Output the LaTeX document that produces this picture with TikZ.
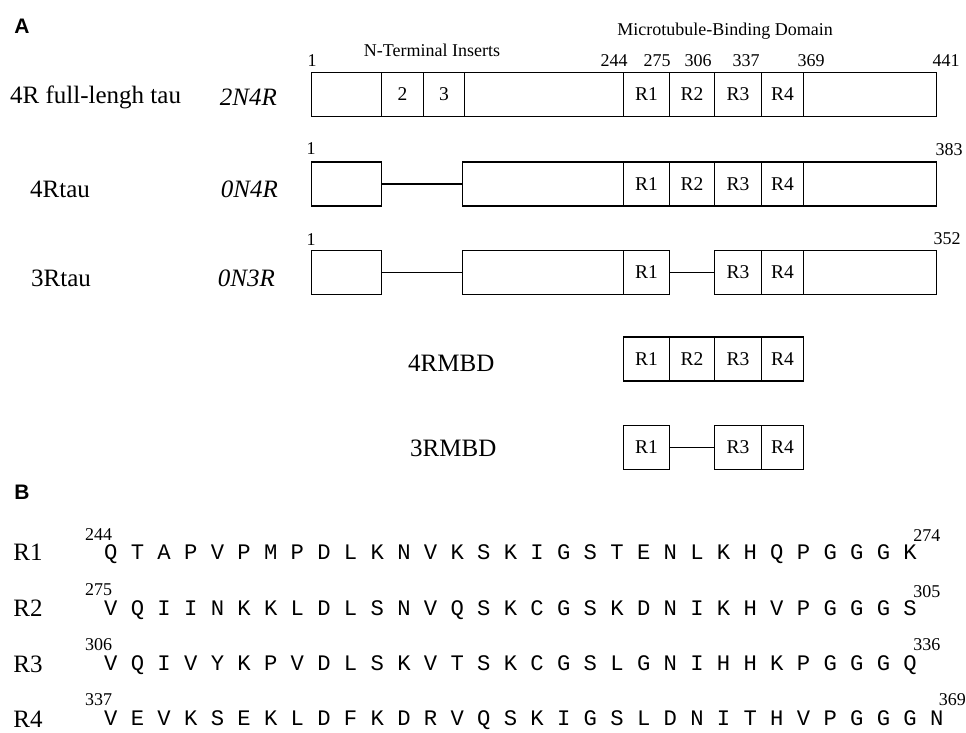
\documentclass[tikz,border=0pt]{standalone}
\usepackage{fontspec}
\setmainfont{Liberation Serif}
\setsansfont{Liberation Sans}
\setmonofont{Liberation Mono}
\usepackage{tikz}
\usetikzlibrary{positioning}

\begin{document}
\begin{tikzpicture}[x=1pt, y=-1pt,
  panel/.style={font=\sffamily\bfseries\fontsize{21}{24}\selectfont, inner sep=0pt},
  lbl/.style={font=\fontsize{25}{28}\selectfont, inner sep=0pt},
  num/.style={font=\fontsize{18}{20}\selectfont, inner sep=0pt},
  seg/.style={draw, line width=1.2pt, minimum height=44pt, inner sep=0pt, anchor=west,
    font=\fontsize{19.5}{21}\selectfont},
  lnk/.style={line width=1.2pt},
  res/.style={font=\ttfamily\fontsize{22.2}{24}\selectfont, inner sep=0pt, anchor=west}]
\useasboundingbox (0,0) rectangle (966,732);

% panel A
\node[panel] (pA) at (22,26) {A};
\node[num] (hN) at (432,50) {N-Terminal Inserts};
\node[num] (hM) at (725,31) {Microtubule-Binding Domain};

% 2N4R full length
\node[lbl, anchor=west] (t1) at (10,97) {4R full-lengh tau};
\node[lbl, anchor=east] (i1) at (277,97) {\itshape 2N4R};
\node[seg, minimum width=70pt] (a1) at (311,94.5) {};
\node[seg, minimum width=42pt] (a2) at (381,94.5) {2};
\node[seg, minimum width=41pt] (a3) at (423,94.5) {3};
\node[seg, minimum width=159pt] (a4) at (464,94.5) {};
\node[seg, minimum width=46pt] (a5) at (623,94.5) {R1};
\node[seg, minimum width=45pt] (a6) at (669,94.5) {R2};
\node[seg, minimum width=47pt] (a7) at (714,94.5) {R3};
\node[seg, minimum width=42pt] (a8) at (761,94.5) {R4};
\node[seg, minimum width=133pt] (a9) at (803,94.5) {};
\node[num] (k1) at (312,61) {1};
\node[num] (k2) at (614,61) {244};
\node[num] (k3) at (657,61) {275};
\node[num] (k4) at (698,61) {306};
\node[num] (k5) at (746,61) {337};
\node[num] (k6) at (811,61) {369};
\node[num] (k7) at (946,61) {441};

% 0N4R
\node[lbl, anchor=west] (t2) at (30,189) {4Rtau};
\node[lbl, anchor=east] (i2) at (278,189) {\itshape 0N4R};
\node[seg, minimum width=70pt] (b1) at (311,184) {};
\node[seg, minimum width=161pt] (b2) at (462,184) {};
\node[seg, minimum width=46pt] (b3) at (623,184) {R1};
\node[seg, minimum width=45pt] (b4) at (669,184) {R2};
\node[seg, minimum width=47pt] (b5) at (714,184) {R3};
\node[seg, minimum width=42pt] (b6) at (761,184) {R4};
\node[seg, minimum width=133pt] (b7) at (803,184) {};
\draw[lnk] (b1.east) -- (b2.west);
\node[num] (m1) at (311,149) {1};
\node[num] (m2) at (949,150) {383};

% 0N3R
\node[lbl, anchor=west] (t3) at (31,278) {3Rtau};
\node[lbl, anchor=east] (i3) at (275,278) {\itshape 0N3R};
\node[seg, minimum width=70pt] (c1) at (311,272.5) {};
\node[seg, minimum width=161pt] (c2) at (462,272.5) {};
\node[seg, minimum width=46pt] (c3) at (623,272.5) {R1};
\node[seg, minimum width=47pt] (c4) at (714,272.5) {R3};
\node[seg, minimum width=42pt] (c5) at (761,272.5) {R4};
\node[seg, minimum width=133pt] (c6) at (803,272.5) {};
\draw[lnk] (c1.east) -- (c2.west);
\draw[lnk] (c3.east) -- (c4.west);
\node[num] (n1) at (311,240) {1};
\node[num] (n2) at (947,239) {352};

% MBD constructs
\node[lbl, anchor=west] (t4) at (408,363) {4RMBD};
\node[seg, minimum width=46pt] (d1) at (623,359) {R1};
\node[seg, minimum width=45pt] (d2) at (669,359) {R2};
\node[seg, minimum width=47pt] (d3) at (714,359) {R3};
\node[seg, minimum width=42pt] (d4) at (761,359) {R4};
\node[lbl, anchor=west] (t5) at (410,448) {3RMBD};
\node[seg, minimum width=46pt] (g1) at (623,447.5) {R1};
\node[seg, minimum width=47pt] (g2) at (714,447.5) {R3};
\node[seg, minimum width=42pt] (g3) at (761,447.5) {R4};
\draw[lnk] (g1.east) -- (g2.west);

% panel B: repeat sequences
\node[panel] (pB) at (22,492) {B};
\node[lbl] (rn1) at (28,552) {R1};
\node[num] (sn1) at (98.5,535) {244};
\node[res] (sq1) at (104,554) {Q T A P V P M P D L K N V K S K I G S T E N L K H Q P G G G K};
\node[num, anchor=west] (en1) at ([xshift=-4pt,yshift=18pt]sq1.east) {274};
\node[lbl] (rn2) at (28,608) {R2};
\node[num] (sn2) at (98.5,590) {275};
\node[res] (sq2) at (104,610) {V Q I I N K K L D L S N V Q S K C G S K D N I K H V P G G G S};
\node[num, anchor=west] (en2) at ([xshift=-4pt,yshift=18pt]sq2.east) {305};
\node[lbl] (rn3) at (28,664) {R3};
\node[num] (sn3) at (98.5,645) {306};
\node[res] (sq3) at (104,665) {V Q I V Y K P V D L S K V T S K C G S L G N I H H K P G G G Q};
\node[num, anchor=west] (en3) at ([xshift=-4pt,yshift=20pt]sq3.east) {336};
\node[lbl] (rn4) at (28,719) {R4};
\node[num] (sn4) at (98.5,700) {337};
\node[res] (sq4) at (104,720) {V E V K S E K L D F K D R V Q S K I G S L D N I T H V P G G G N};
\node[num, anchor=west] (en4) at ([xshift=-5pt,yshift=20pt]sq4.east) {369};
\end{tikzpicture}
\end{document}
